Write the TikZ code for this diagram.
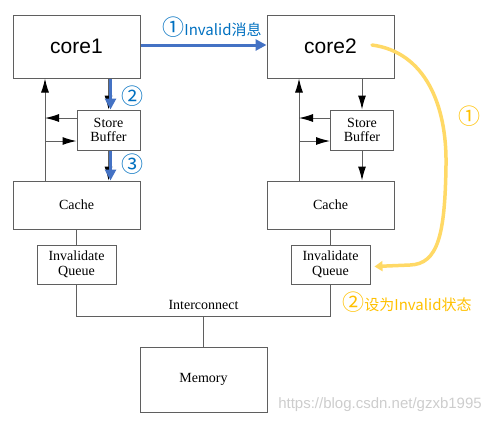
\documentclass[tikz,border=0pt]{standalone}
\usepackage{fontspec}
\setmainfont{Liberation Serif}
\setsansfont{Liberation Sans}
\newfontfamily\cjk{Noto Sans CJK SC}
\usetikzlibrary{positioning,calc,arrows.meta}
\definecolor{boxgray}{RGB}{95,95,95}
\definecolor{msgblue}{RGB}{68,114,196}
\definecolor{labelblue}{RGB}{0,112,192}
\definecolor{invyellow}{RGB}{255,217,102}
\definecolor{labelyellow}{RGB}{255,192,0}
\definecolor{markgray}{RGB}{205,205,205}
\newcommand{\bigmark}[1]{{\fontsize{22}{22}\selectfont #1}}

\begin{document}
\begin{tikzpicture}[x=1pt, y=-1pt,
    unit/.style={draw=boxgray, line width=1pt, inner sep=0pt, align=center, font=\fontsize{14}{14.5}\selectfont},
    corebox/.style={unit, minimum width=127pt, minimum height=63pt, font=\sffamily\fontsize{21}{24}\selectfont},
    bufbox/.style={unit, minimum width=63pt, minimum height=40pt},
    cachebox/.style={unit, minimum width=127pt, minimum height=48pt},
    queuebox/.style={unit, minimum width=79pt, minimum height=39pt},
    membox/.style={unit, minimum width=127pt, minimum height=65pt},
    wire/.style={boxgray, line width=1pt},
    flow/.style={wire, -{Latex[length=14pt,width=8pt,color=black]}},
    msgarrow/.style={msgblue, line width=3pt, -{Triangle[length=11pt,width=11pt]}},
    invarrow/.style={invyellow, line width=3.5pt, line cap=round, -{Triangle[length=8pt,width=10pt]}},
    bluelabel/.style={labelblue, font=\cjk\fontsize{15}{18}\selectfont, inner sep=0pt},
    yellowlabel/.style={labelyellow, font=\cjk\fontsize{15}{18}\selectfont, inner sep=0pt}]
    \useasboundingbox (0,0) rectangle (497,424);

    % Cores
    \node[corebox] (core1) at (76.5,46.5) {core1};
    \node[corebox] (core2) at (330.5,46.5) {core2};

    % Store buffers
    \node[bufbox] (sb1) at (108.5,130) {Store\\Buffer};
    \node[bufbox] (sb2) at (362,130) {Store\\Buffer};

    % Caches
    \node[cachebox] (cache1) at (76.5,205) {Cache};
    \node[cachebox] (cache2) at (330.5,205) {Cache};

    % Invalidate queues
    \node[queuebox] (iq1) at (76.5,264.5) {Invalidate\\Queue};
    \node[queuebox] (iq2) at (330.5,264.5) {Invalidate\\Queue};

    % Memory
    \node[membox] (mem) at (203.5,379.5) {Memory};

    % Load paths on the left of each core
    \coordinate (spine1) at (45,150);
    \coordinate (spine2) at (299,150);
    \draw[flow] (cache1.north -| spine1) -- (core1.south -| spine1);
    \draw[flow] (cache2.north -| spine2) -- (core2.south -| spine2);
    \draw[flow] ([yshift=12pt]sb1.west) -- ([yshift=12pt]sb1.west -| spine1);
    \draw[flow] ([yshift=-11pt]sb1.west -| spine1) -- ([yshift=-11pt]sb1.west);
    \draw[flow] ([yshift=12pt]sb2.west) -- ([yshift=12pt]sb2.west -| spine2);
    \draw[flow] ([yshift=-11pt]sb2.west -| spine2) -- ([yshift=-11pt]sb2.west);

    % Store paths
    \draw[flow] (core1.south -| sb1) -- (sb1.north);
    \draw[flow] (sb1.south) -- (cache1.north -| sb1);
    \draw[flow] (core2.south -| sb2) -- (sb2.north);
    \draw[flow] (sb2.south) -- (cache2.north -| sb2);

    % Interconnect
    \draw[wire] (cache1.south) -- (iq1.north);
    \draw[wire] (cache2.south) -- (iq2.north);
    \coordinate (bus) at (203.5,316);
    \draw[wire] (iq1.south) |- (bus) -| (iq2.south);
    \draw[wire] (bus) -- (mem.north);
    \node[font=\fontsize{14}{14.5}\selectfont, above=3pt of bus] (buslabel) {Interconnect};

    % Invalid message, core1 -> core2
    \draw[msgarrow] ([yshift=1.5pt]core1.east) -- ([yshift=1.5pt]core2.west);
    \node[bluelabel] (msg) at (212,27) {\bigmark{①}Invalid消息};
    \draw[msgarrow] ([xshift=2pt]core1.south -| sb1) -- ([xshift=2pt]sb1.north);
    \draw[msgarrow] ([xshift=2pt]sb1.south) -- ([xshift=2pt]cache1.north -| sb1);
    \node[bluelabel] (step2) at (132,96) {\bigmark{②}};
    \node[bluelabel] (step3) at (132,164) {\bigmark{③}};

    % core2 marks the line invalid
    \coordinate (c2tail) at (372,45);
    \draw[invarrow] (c2tail) .. controls (425,52) and (447,105) .. (446,165)
        .. controls (445,235) and (438,264) .. (410,265) -- ([xshift=4pt,yshift=-2pt]iq2.east);
    \node[yellowlabel] (inv1) at (469,116) {\bigmark{①}};
    \node[yellowlabel] (inv2) at (407,302) {\bigmark{②}设为Invalid状态};

    % watermark
    \node[markgray, font=\sffamily\fontsize{15}{18}\selectfont, inner sep=0pt] (mark) at (380,405) {https://blog.csdn.net/gzxb1995};
\end{tikzpicture}
\end{document}
